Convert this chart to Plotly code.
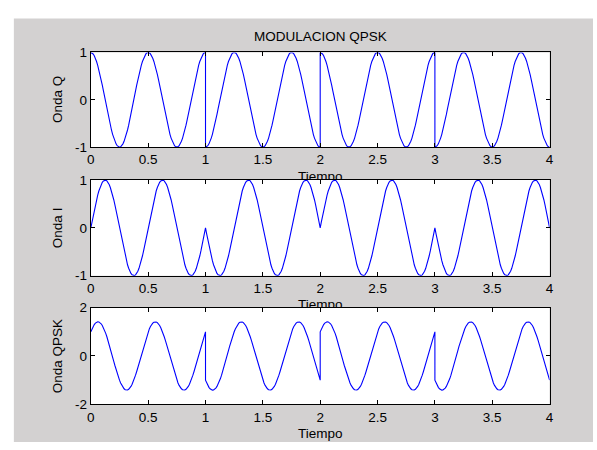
import numpy as np
import plotly.graph_objects as go

# ---- data -------------------------------------------------------------
# Bit streams of the two branches (one symbol per second)
Q_BITS = [1, -1, 1, -1]
I_BITS = [1, -1, 1, -1]
CARRIER_HZ = 2.0          # carrier frequency of both branches
SAMPLES_PER_BIT = 101     # each bit interval sampled on [0, 1], ends included

X_TICKS = [0, 0.5, 1, 1.5, 2, 2.5, 3, 3.5, 4]
X_TICK_TEXT = ["0", "0.5", "1", "1.5", "2", "2.5", "3", "3.5", "4"]
Q_TICKS = [-1, 0, 1]
Q_TICK_TEXT = ["-1", "0", "1"]
I_TICKS = [-1, 0, 1]
I_TICK_TEXT = ["-1", "0", "1"]
S_TICKS = [-2, 0, 2]
S_TICK_TEXT = ["-2", "0", "2"]

TITLE = "MODULACION QPSK"
X_LABEL = "Tiempo"
Y_LABELS = ["Onda Q", "Onda I", "Onda QPSK"]

# ---- waveforms --------------------------------------------------------
t_parts, q_parts, i_parts = [], [], []
for k, (bq, bi) in enumerate(zip(Q_BITS, I_BITS)):
    tt = k + np.linspace(0.0, 1.0, SAMPLES_PER_BIT)
    t_parts.append(tt)
    q_parts.append(bq * np.cos(2 * np.pi * CARRIER_HZ * tt))
    i_parts.append(bi * np.sin(2 * np.pi * CARRIER_HZ * tt))
t = np.concatenate(t_parts)
onda_q = np.concatenate(q_parts)
onda_i = np.concatenate(i_parts)
onda_qpsk = onda_q + onda_i

# ---- geometry (pixels) -------------------------------------------------
W, H = 597, 450
LEFT, RIGHT = 88, 553
ROWS = [(47, 145), (179, 278), (311, 411)]   # (top, bottom) of each axes box
FONT = dict(family="Arial, Liberation Sans, sans-serif", size=13.5, color="#000000")
FIG_GREY = "#d3d1d1"
LINE_BLUE = "#0000ff"

x_dom = [LEFT / W, RIGHT / W]


def y_dom(top, bottom):
    return [1 - bottom / H, 1 - top / H]


fig = go.Figure()

# text layer drawn first (subplot "xy"), so the axes boxes cover it
centre_x = (LEFT + RIGHT) / 2
fig.add_trace(go.Scatter(
    x=[centre_x] * len(ROWS),
    y=[bottom + 31 for _, bottom in ROWS],
    text=[X_LABEL] * len(ROWS),
    mode="text", textposition="middle center",
    textfont=FONT, hoverinfo="skip", showlegend=False,
    xaxis="x", yaxis="y",
))

panels = [
    (onda_q, Q_TICKS, Q_TICK_TEXT),
    (onda_i, I_TICKS, I_TICK_TEXT),
    (onda_qpsk, S_TICKS, S_TICK_TEXT),
]

x_range = [X_TICKS[0], X_TICKS[-1]]
for n, ((series, yt, ytt), (top, bottom)) in enumerate(zip(panels, ROWS), start=2):
    y_range = [yt[0], yt[-1]]
    xa, ya = f"x{n}", f"y{n}"
    # white axes background, drawn as a filled trace inside the subplot
    pad_x = x_range[1] - x_range[0]
    pad_y = y_range[1] - y_range[0]
    bx = [x_range[0] - pad_x, x_range[1] + pad_x, x_range[1] + pad_x,
          x_range[0] - pad_x, x_range[0] - pad_x]
    by = [y_range[0] - pad_y, y_range[0] - pad_y, y_range[1] + pad_y,
          y_range[1] + pad_y, y_range[0] - pad_y]
    fig.add_trace(go.Scatter(
        x=bx, y=by, mode="lines", fill="toself", fillcolor="#ffffff",
        line=dict(width=0, color="#ffffff"), hoverinfo="skip",
        showlegend=False, xaxis=xa, yaxis=ya,
    ))
    fig.add_trace(go.Scatter(
        x=t, y=series, mode="lines",
        line=dict(color=LINE_BLUE, width=1.1),
        hoverinfo="skip", showlegend=False, xaxis=xa, yaxis=ya,
    ))

    common = dict(
        showline=True, linecolor="#000000", linewidth=1, mirror="ticks",
        ticks="inside", ticklen=4, tickcolor="#000000", tickwidth=1,
        showgrid=False, zeroline=False, tickfont=FONT, fixedrange=True,
    )
    fig.update_layout({
        f"xaxis{n}": dict(domain=x_dom, range=x_range, anchor=ya,
                          tickmode="array", tickvals=X_TICKS,
                          ticktext=X_TICK_TEXT, **common),
        f"yaxis{n}": dict(domain=y_dom(top, bottom), range=y_range, anchor=xa,
                          tickmode="array", tickvals=yt, ticktext=ytt,
                          **common),
    })

annotations = [dict(
    text=TITLE, x=centre_x / W, y=1 - 31 / H, xref="paper", yref="paper",
    xanchor="center", yanchor="middle", showarrow=False, font=FONT,
)]
for label, (top, bottom) in zip(Y_LABELS, ROWS):
    annotations.append(dict(
        text=label, x=55 / W, y=1 - (top + bottom) / 2 / H,
        xref="paper", yref="paper", xanchor="center", yanchor="middle",
        textangle=-90, showarrow=False, font=FONT,
    ))

fig.update_layout(
    width=W, height=H,
    margin=dict(l=0, r=0, t=0, b=0),
    paper_bgcolor="#ffffff",
    plot_bgcolor="rgba(0,0,0,0)",
    xaxis=dict(domain=[0, 1], range=[0, W], visible=False, fixedrange=True),
    yaxis=dict(domain=[0, 1], range=[H, 0], visible=False, fixedrange=True),
    shapes=[dict(
        type="rect", xref="paper", yref="paper",
        x0=10 / W, x1=1, y0=0, y1=1 - 12 / H,
        fillcolor=FIG_GREY, line=dict(width=0), layer="below",
    )],
    annotations=annotations,
    showlegend=False,
)

fig.write_html("out.html")
